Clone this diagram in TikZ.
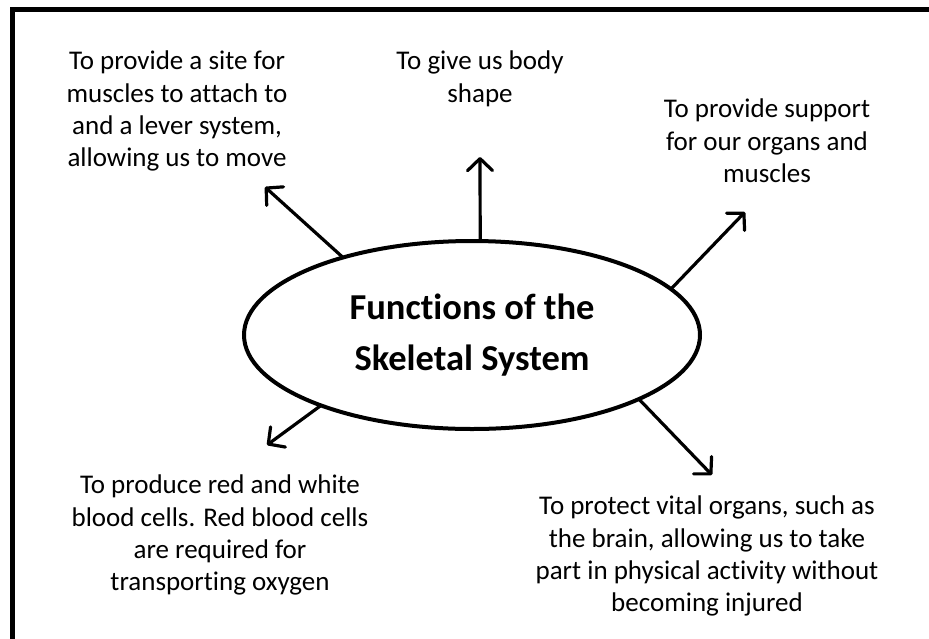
\documentclass[tikz,border=0pt]{standalone}
\usepackage{fontspec}
\setmainfont{Carlito}[Ligatures={NoCommon,TeX},RawFeature={-liga;-dlig;-clig}]
\usetikzlibrary{shapes.geometric,arrows.meta}
\tikzset{
  label/.style={align=center, anchor=north, inner sep=0pt, outer sep=0pt,
    font=\fontsize{27}{32.3}\selectfont},
  hub/.style={ellipse, draw, line width=4pt, minimum width=456pt, minimum height=188pt,
    inner sep=0pt, outer sep=0pt, align=center, font=\fontsize{36.5}{51}\selectfont\bfseries},
  arr/.style={line width=3.2pt, -{Straight Barb[length=12pt,width=25pt,line cap=round,line join=round]}},
  frame/.style={line width=4.5pt}
}
\begin{document}
\begin{tikzpicture}[x=1pt,y=-1pt]
\useasboundingbox (0,0) rectangle (929,638);
\draw[frame] (12.5,645) -- (12.5,9.5) -- (935,9.5);
\node[hub] (ell) at (472,335) {Functions of the\\Skeletal System};
\node[label] (tl) at (177,51) {To provide a site for\\muscles to attach to\\and a lever system,\\allowing us to move};
\node[label] (tc) at (480,51) {To give us body\\shape};
\node[label] (tr) at (767,99) {To provide support\\for our organs and\\muscles};
\node[label] (bl) at (220,475) {To produce red and white\\blood cells. Red blood cells\\are required for\\transporting oxygen};
\node[label] (br) at (707,496) {To protect vital organs, such as\\the brain, allowing us to take\\part in physical activity without\\becoming injured};
\coordinate (aTL) at (265,187);
\coordinate (aTC) at (480,157);
\coordinate (aTR) at (745,212);
\coordinate (aBL) at (267,445);
\coordinate (aBR) at (712,475);
\draw[arr] (ell.149.4) -- (aTL);
\draw[arr] (ell.85.2) -- (aTC);
\draw[arr] (ell.13.5) -- (aTR);
\draw[arr] (ell.205.3) -- (aBL);
\draw[arr] (ell.-21.2) -- (aBR);
\end{tikzpicture}
\end{document}
